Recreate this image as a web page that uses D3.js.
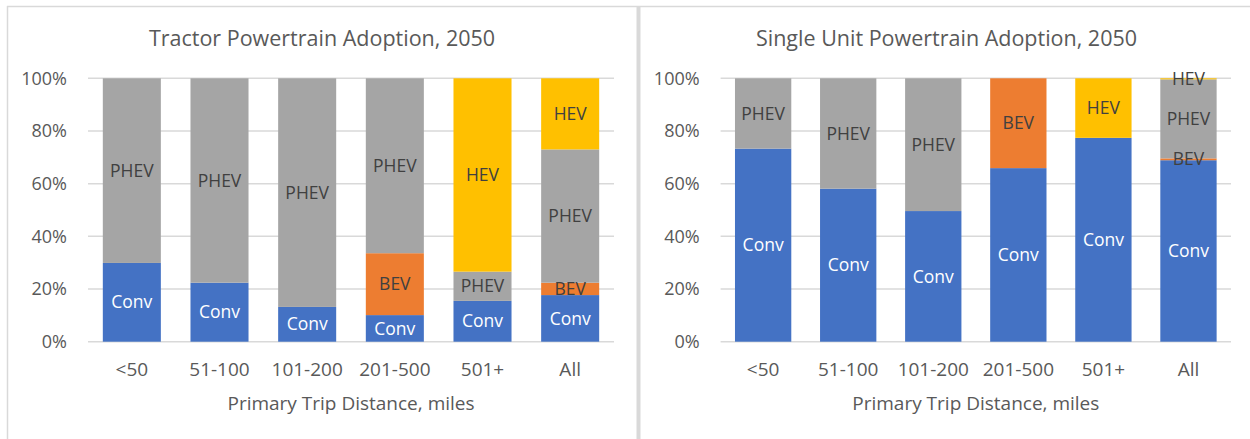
<!DOCTYPE html>
<html>
<head>
<meta charset="utf-8">
<script src="https://cdn.jsdelivr.net/npm/d3@7"></script>
<style>
  html, body { margin: 0; padding: 0; background: #fff; }
  svg { display: block; }
  text { font-family: "Open Sans", sans-serif; }
</style>
</head>
<body>
<svg id="chart" width="1250" height="439"></svg>
<script>
const categories = ["<50", "51-100", "101-200", "201-500", "501+", "All"];
const seriesNames = ["Conv", "BEV", "PHEV", "HEV"];
const yTicks = [0, 0.2, 0.4, 0.6, 0.8, 1.0];

// Tractor powertrain shares (fractions)
const tractorConv = [0.299, 0.224, 0.132, 0.101, 0.155, 0.177];
const tractorBEV  = [0.000, 0.000, 0.000, 0.235, 0.000, 0.047];
const tractorPHEV = [0.701, 0.776, 0.868, 0.664, 0.111, 0.506];
const tractorHEV  = [0.000, 0.000, 0.000, 0.000, 0.734, 0.270];

// Single unit powertrain shares (fractions)
const singleConv = [0.733, 0.581, 0.496, 0.659, 0.774, 0.689];
const singleBEV  = [0.000, 0.000, 0.000, 0.341, 0.000, 0.007];
const singlePHEV = [0.267, 0.419, 0.504, 0.000, 0.000, 0.300];
const singleHEV  = [0.000, 0.000, 0.000, 0.000, 0.226, 0.004];

const titles = ["Tractor Powertrain Adoption, 2050", "Single Unit Powertrain Adoption, 2050"];
const xAxisTitle = "Primary Trip Distance, miles";

const colors = { Conv: "#4472C4", BEV: "#ED7D31", PHEV: "#A5A5A5", HEV: "#FFC000" };
const labelColors = { Conv: "#FFFFFF", BEV: "#404040", PHEV: "#404040", HEV: "#404040" };

const svg = d3.select("#chart");

// Frames
const frameColor = "#D9D9D9";
svg.append("line").attr("x1", 7).attr("x2", 1250).attr("y1", 6.5).attr("y2", 6.5)
  .attr("stroke", frameColor).attr("stroke-width", 1.5);
svg.append("line").attr("x1", 7.5).attr("x2", 7.5).attr("y1", 6).attr("y2", 439)
  .attr("stroke", frameColor).attr("stroke-width", 1.5);
svg.append("rect").attr("x", 636.5).attr("y", 6).attr("width", 4).attr("height", 433)
  .attr("fill", frameColor);

function buildRows(conv, bev, phev, hev) {
  return categories.map((c, i) => ({ cat: c, Conv: conv[i], BEV: bev[i], PHEV: phev[i], HEV: hev[i] }));
}

function drawChart(cfg) {
  const g = svg.append("g");
  const x = d3.scaleBand().domain(categories).range([cfg.x0, cfg.x1])
    .paddingInner(0.338).paddingOuter(0.169);
  const y = d3.scaleLinear().domain([0, 1]).range([cfg.yBottom, cfg.yTop]);

  // gridlines
  g.append("g").selectAll("line").data(yTicks).join("line")
    .attr("x1", cfg.x0).attr("x2", cfg.x1)
    .attr("y1", d => y(d)).attr("y2", d => y(d))
    .attr("stroke", "#D9D9D9").attr("stroke-width", 1.5);

  // y axis labels
  const yAxis = d3.axisLeft(y).tickValues(yTicks).tickFormat(d3.format(".0%")).tickSize(0).tickPadding(0);
  const ya = g.append("g").attr("transform", `translate(${cfg.x0 - 21},0)`).call(yAxis);
  ya.select(".domain").remove();
  ya.selectAll("text").attr("fill", "#595959").style("font-size", "18px").style("font-family", "'Open Sans', sans-serif");

  // stacked bars
  const stack = d3.stack().keys(seriesNames);
  const layers = stack(cfg.rows);
  const lg = g.append("g").selectAll("g").data(layers).join("g")
    .attr("fill", d => colors[d.key]);
  lg.selectAll("rect").data(d => d.filter(s => s[1] - s[0] > 0)).join("rect")
    .attr("x", d => x(d.data.cat))
    .attr("width", x.bandwidth())
    .attr("y", d => y(d[1]))
    .attr("height", d => y(d[0]) - y(d[1]));

  // data labels
  layers.forEach(layer => {
    g.append("g").selectAll("text").data(layer.filter(s => s[1] - s[0] > 0)).join("text")
      .attr("x", d => x(d.data.cat) + x.bandwidth() / 2)
      .attr("y", d => y((d[0] + d[1]) / 2))
      .attr("dy", "0.35em")
      .attr("text-anchor", "middle")
      .attr("fill", labelColors[layer.key])
      .style("font-size", "17.5px")
      .text(layer.key);
  });

  // x axis labels
  const xAxis = d3.axisBottom(x).tickSize(0).tickPadding(0);
  const xa = g.append("g").attr("transform", `translate(0,${cfg.yBottom + 21})`).call(xAxis);
  xa.select(".domain").remove();
  xa.selectAll("text").attr("fill", "#595959").style("font-size", "19px").style("font-family", "'Open Sans', sans-serif");

  // axis title
  g.append("text").attr("x", (cfg.x0 + cfg.x1) / 2).attr("y", 403).attr("dy", "0.35em")
    .attr("text-anchor", "middle").attr("fill", "#595959").style("font-size", "19px")
    .text(xAxisTitle);

  // chart title
  g.append("text").attr("x", cfg.titleX).attr("y", 38).attr("dy", "0.35em")
    .attr("text-anchor", "middle").attr("fill", "#595959").style("font-size", "21.5px")
    .text(cfg.title);
}

drawChart({ rows: buildRows(tractorConv, tractorBEV, tractorPHEV, tractorHEV),
  x0: 88, x1: 614, yTop: 78.3, yBottom: 341.7, titleX: 322, title: titles[0] });
drawChart({ rows: buildRows(singleConv, singleBEV, singlePHEV, singleHEV),
  x0: 720.6, x1: 1231, yTop: 78.3, yBottom: 341.7, titleX: 946.5, title: titles[1] });
</script>
</body>
</html>
